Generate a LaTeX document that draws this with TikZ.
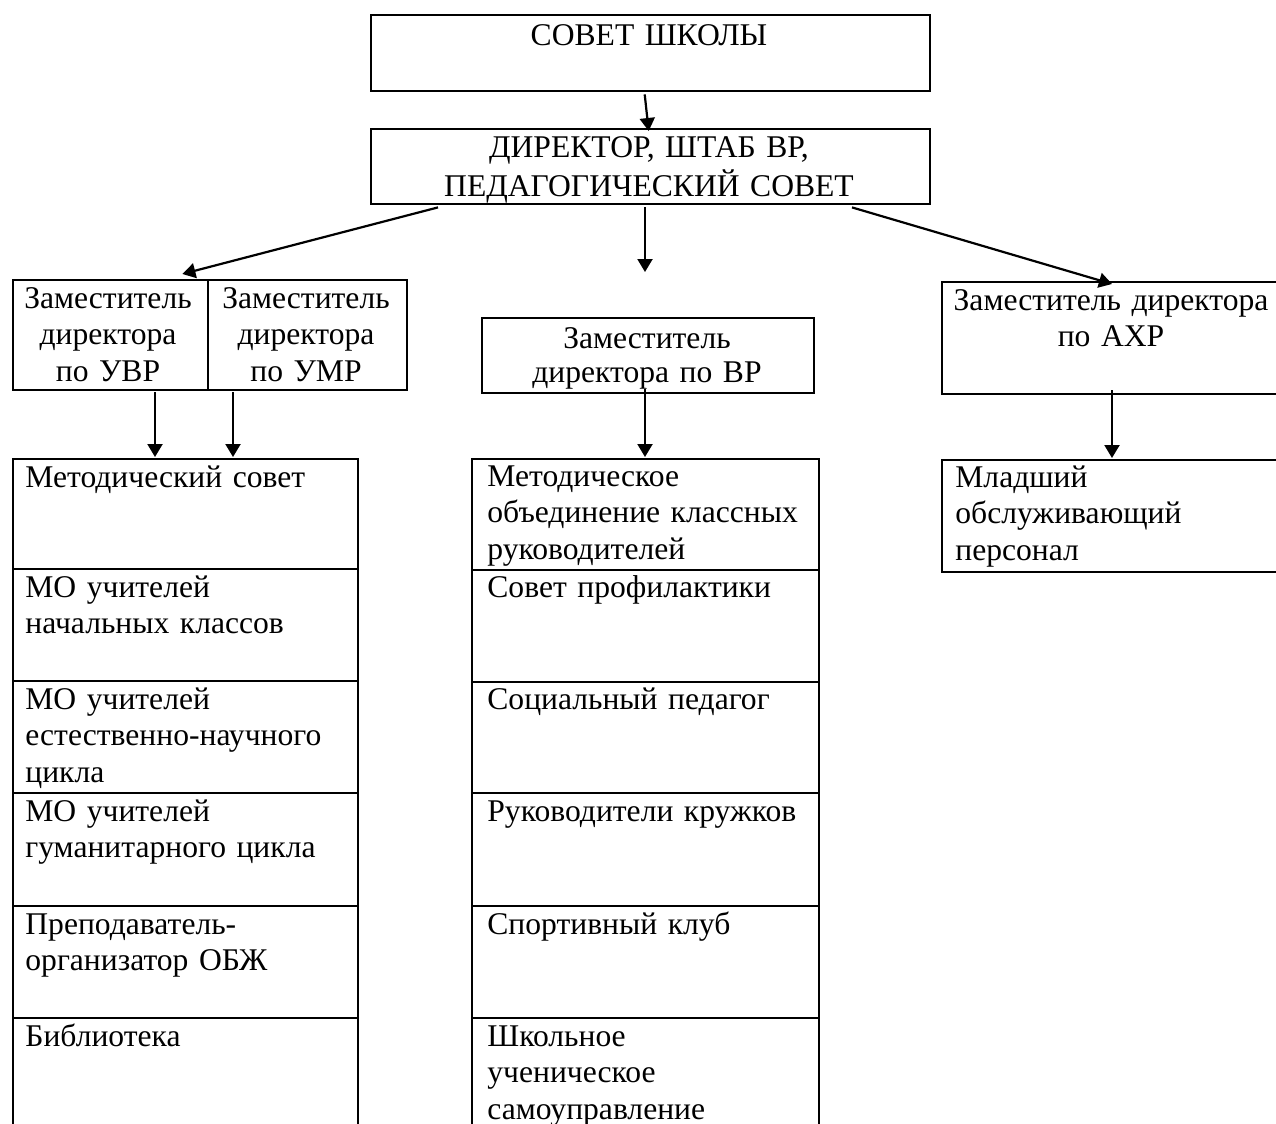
\documentclass[tikz,border=0pt]{standalone}
\usepackage{fontspec}
\setmainfont{Liberation Serif}
\usetikzlibrary{arrows.meta,calc}
\newcommand{\fA}{\fontsize{15.8pt}{18.25pt}\selectfont}
\newcommand{\fB}{\fontsize{15.8pt}{17pt}\selectfont}
\begin{document}
\begin{tikzpicture}[x=0.5pt,y=-0.5pt,
  bx/.style 2 args={draw, line width=1.2pt, inner sep=0pt, anchor=north west,
     minimum width={#1*0.5pt}, minimum height={#2*0.5pt}},
  lt/.style={anchor=north west, inner sep=0pt, text width=190pt, align=left, font=\fA},
  ct/.style={anchor=north, inner sep=0pt, text width=180pt, align=center, font=\fA},
  ctb/.style={anchor=north, inner sep=0pt, text width=260pt, align=center, font=\fB},
  arr/.style={line width=1.1pt, -{Triangle[length=6.5pt,width=7.5pt]}}]
\useasboundingbox (0,0) rectangle (1276,1124);
\fill[white] (0,0) rectangle (1276,1124);
\clip (0,0) rectangle (1276,1124);

% top boxes
\node[bx={559}{76}] (s) at (370,14) {};
\node[ct, text width=260pt] (st) at (649,20) {\strut СОВЕТ ШКОЛЫ};
\node[bx={559}{75}] (d) at (370,128) {};
\node[ctb] (dt) at (649,133) {\strut ДИРЕКТОР, ШТАБ ВР,\\ ПЕДАГОГИЧЕСКИЙ СОВЕТ};

% deputies
\node[bx={195}{110}] (uvr) at (12,279) {};
\node[bx={199}{110}] (umr) at (207,279) {};
\node[ct, text width=95pt] (uvrt) at (108,282.5) {\strut Заместитель\\ директора\\ по УВР};
\node[ct, text width=95pt] (umrt) at (306,282.5) {\strut Заместитель\\ директора\\ по УМР};
\node[bx={332}{75}] (vr) at (481,317) {};
\node[ctb, text width=160pt] (vrt) at (647,324) {\strut Заместитель\\ директора по ВР};
\node[bx={349}{112}] (axr) at (941,281) {};
\node[ct] (axrt) at (1111,284.5) {\strut Заместитель директора\\ по АХР};

% left table
\node[bx={345}{110}] (l1) at (12,458) {};
\node[bx={345}{112}] (l2) at (12,568) {};
\node[bx={345}{112}] (l3) at (12,680) {};
\node[bx={345}{113}] (l4) at (12,792) {};
\node[bx={345}{112}] (l5) at (12,905) {};
\node[bx={345}{130}] (l6) at (12,1017) {};
\node[lt] (l1t) at (25,461.5) {\strut Методический совет};
\node[lt] (l2t) at (25,571.5) {\strut МО учителей\\ начальных классов};
\node[lt] (l3t) at (25,683.5) {\strut МО учителей\\ естественно-научного\\ цикла};
\node[lt] (l4t) at (25,795.5) {\strut МО учителей\\ гуманитарного цикла};
\node[lt] (l5t) at (25,908.5) {\strut Преподаватель-\\ организатор ОБЖ};
\node[lt] (l6t) at (25,1020.5) {\strut Библиотека};

% middle table
\node[bx={347}{111}] (m1) at (471,458) {};
\node[bx={347}{112}] (m2) at (471,569) {};
\node[bx={347}{111}] (m3) at (471,681) {};
\node[bx={347}{113}] (m4) at (471,792) {};
\node[bx={347}{112}] (m5) at (471,905) {};
\node[bx={347}{130}] (m6) at (471,1017) {};
\node[lt] (m1t) at (487,460.5) {\strut Методическое\\ объединение классных\\ руководителей};
\node[lt] (m2t) at (487,571.5) {\strut Совет профилактики};
\node[lt] (m3t) at (487,683.5) {\strut Социальный педагог};
\node[lt] (m4t) at (487,795.5) {\strut Руководители кружков};
\node[lt] (m5t) at (487,908.5) {\strut Спортивный клуб};
\node[lt] (m6t) at (487,1020.5) {\strut Школьное\\ ученическое\\ самоуправление};

% right
\node[bx={349}{112}] (ml) at (941,459) {};
\node[lt] (mlt) at (955,461.5) {\strut Младший\\ обслуживающий\\ персонал};

% connectors
\coordinate (free) at (645,272);
\draw[arr] ($(s.south)+(-6,2)$) -- ($(d.north)+(-2,3)$);
\draw[arr] ($(d.south west)+(68,2)$) -- ($(uvr.north east)+(-27,-5)$);
\draw[arr] ($(d.south west)+(275,2)$) -- (free);
\draw[arr] ($(d.south west)+(482,2)$) -- ($(axr.north west)+(171,3)$);
\draw[arr] ($(uvr.south west)+(143,1)$) -- ($(l1.north west)+(143,-1)$);
\draw[arr] ($(umr.south west)+(26,1)$) -- ($(l1.north west)+(221,-1)$);
\draw[arr] ($(vr.south west)+(164,-5)$) -- ($(m1.north west)+(174,-1)$);
\draw[arr] ($(axr.south west)+(171,-5)$) -- ($(ml.north west)+(171,-1)$);
\end{tikzpicture}
\end{document}
